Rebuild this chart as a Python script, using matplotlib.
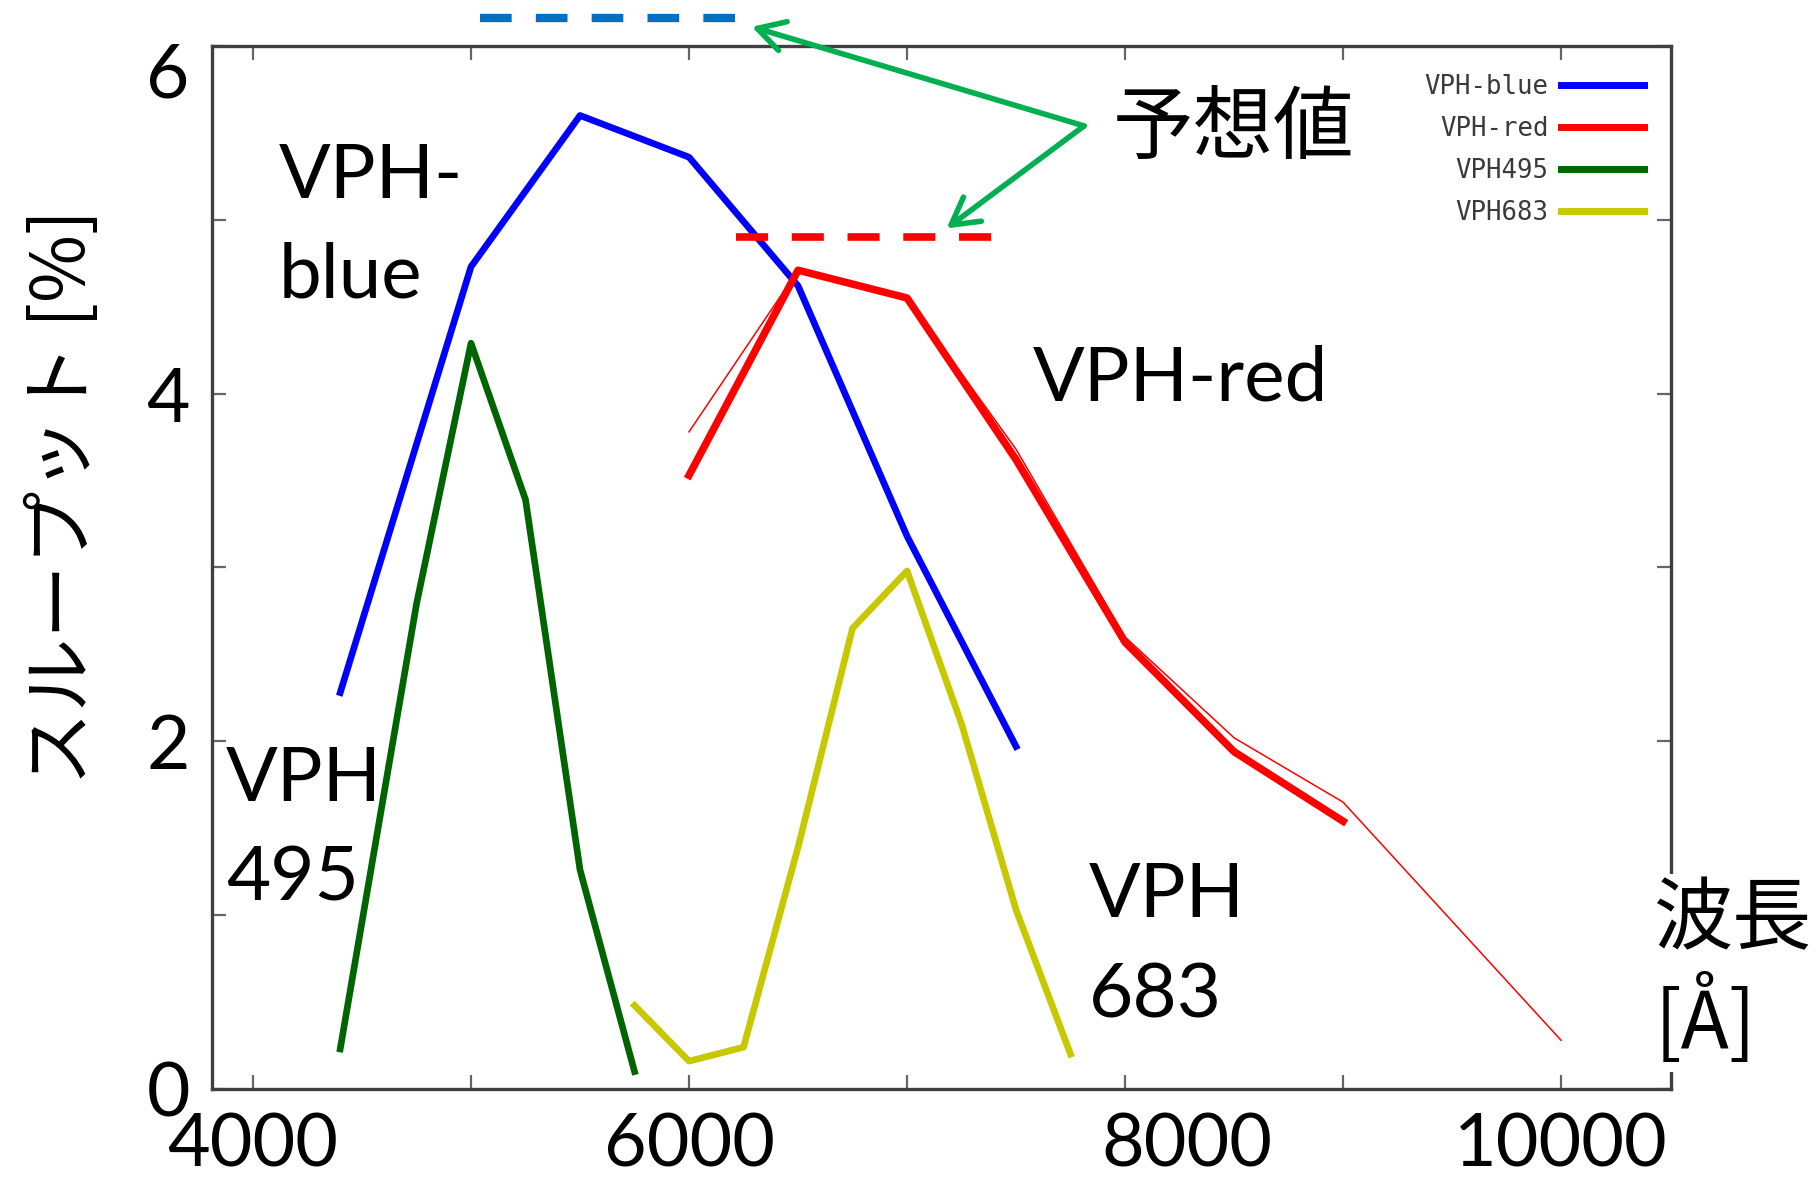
import matplotlib
matplotlib.use("Agg")
import matplotlib.pyplot as plt
from matplotlib.ticker import FixedLocator
from matplotlib.transforms import ScaledTranslation

plt.rcParams['font.family'] = ['Lato', 'Noto Sans CJK JP', 'DejaVu Sans']

# throughput [%] vs wavelength [A]
blue_x = [4400, 5000, 5500, 6000, 6500, 7000, 7500]
blue_y = [2.28, 4.73, 5.60, 5.36, 4.62, 3.18, 1.97]

red_x = [6000, 6500, 7000, 7500, 8000, 8500, 9000]
red_y = [3.53, 4.71, 4.55, 3.62, 2.57, 1.94, 1.54]

# thin red curve (no legend entry)
red2_x = [6000, 6500, 7000, 7500, 8000, 8500, 9000, 10000]
red2_y = [3.78, 4.71, 4.55, 3.68, 2.60, 2.02, 1.65, 0.28]

g495_x = [4400, 4750, 5000, 5250, 5500, 5750]
g495_y = [0.23, 2.79, 4.29, 3.39, 1.26, 0.10]

y683_x = [5750, 6000, 6250, 6500, 6750, 7000, 7250, 7500, 7750]
y683_y = [0.48, 0.16, 0.24, 1.39, 2.65, 2.98, 2.10, 1.03, 0.20]

# expected values (dashed)
exp_blue_x = [5040, 6215]
exp_blue_y = [6.16, 6.16]
exp_red_x = [6215, 7390]
exp_red_y = [4.90, 4.90]

legend_names = ['VPH-blue', 'VPH-red', 'VPH495', 'VPH683']
xtick_vals = [4000, 6000, 8000, 10000]
ytick_vals = [0, 2, 4, 6]

fig = plt.figure(figsize=(18.2, 11.78), dpi=100)
ax = fig.add_axes([0.1165, 0.0756, 0.8016, 0.8854])

ax.plot(blue_x, blue_y, color='#0000ff', lw=4.8, label=legend_names[0], zorder=3)
ax.plot(red_x, red_y, color='#ff0000', lw=5.4, label=legend_names[1], zorder=4)
ax.plot(g495_x, g495_y, color='#006400', lw=4.8, label=legend_names[2], zorder=3)
ax.plot(y683_x, y683_y, color='#c8c800', lw=4.8, label=legend_names[3], zorder=3)
ax.plot(red2_x, red2_y, color='#ff0000', lw=1.1, label='_nolegend_', zorder=4)

ax.plot(exp_blue_x, exp_blue_y, color='#0070c0', lw=6, dashes=(3.8, 2.9),
        dash_capstyle='butt', clip_on=False, zorder=5)
ax.plot(exp_red_x, exp_red_y, color='#ff0000', lw=5.5, dashes=(4.2, 3.1),
        dash_capstyle='butt', zorder=5)

ax.set_xlim(3812, 10504)
ax.set_ylim(0, 6)

ax.xaxis.set_major_locator(FixedLocator(xtick_vals))
ax.xaxis.set_minor_locator(FixedLocator([5000, 7000, 9000]))
ax.yaxis.set_major_locator(FixedLocator(ytick_vals))
ax.yaxis.set_minor_locator(FixedLocator([1, 3, 5]))
ax.tick_params(which='both', direction='in', length=10, width=1.6,
               color='#666666', top=True, right=True)
ax.tick_params(axis='x', which='major', labelsize=53, pad=17)
ax.tick_params(axis='y', which='major', labelsize=54, pad=16)
for s in ax.spines.values():
    s.set_color('#404040')
    s.set_linewidth(2.4)

# the overlaid tick labels in the original are not all centred on their ticks
xt = ax.xaxis.get_major_ticks()
xt[2].label1.set_transform(xt[2].label1.get_transform() +
                           ScaledTranslation(0.62, 0, fig.dpi_scale_trans))
yt = ax.yaxis.get_major_ticks()
yt[3].label1.set_transform(yt[3].label1.get_transform() +
                           ScaledTranslation(0, -0.24, fig.dpi_scale_trans))

ax.set_ylabel('スループット [%]', fontsize=53, family=['Noto Sans CJK JP'],
              va='center')
ax.yaxis.set_label_coords(-0.101, 0.567)

fig.text(0.909, 0.253, '波長\n[Å]', fontsize=57, family=['Noto Sans CJK JP'],
         ha='left', va='top', linespacing=1.2,
         bbox=dict(facecolor='white', edgecolor='none', pad=4))

# curve labels
lab = dict(fontsize=55, linespacing=1.55, va='top', ha='left')
ax.text(4119, 5.45, 'VPH-\nblue', **lab)
ax.text(7578, 4.28, 'VPH-red', **lab)
ax.text(3876, 1.98, 'VPH\n495', clip_on=False, **lab)
ax.text(7835, 1.31, 'VPH\n683', **lab)

# expected value callout
ax.text(7945, 5.52, '予想値', fontsize=58, family=['Noto Sans CJK JP'],
        ha='left', va='center')
arr = dict(arrowstyle='->,head_length=0.8,head_width=0.45', color='#00b050',
           lw=4, mutation_scale=24, shrinkA=0, shrinkB=0)
ax.annotate('', xy=(6288, 6.11), xytext=(7812, 5.54), arrowprops=arr,
            annotation_clip=False)
ax.annotate('', xy=(7181, 4.95), xytext=(7812, 5.54), arrowprops=arr,
            annotation_clip=False)

leg = ax.legend(loc='upper right', bbox_to_anchor=(0.99, 0.985),
                frameon=False, markerfirst=False, borderpad=0,
                prop={'family': 'DejaVu Sans Mono', 'size': 18.5},
                handlelength=3.2, handletextpad=0.5, labelspacing=0.62)
for t in leg.get_texts():
    t.set_color('#3a3a3a')
for h in leg.get_lines():
    h.set_linewidth(5)

fig.savefig('out.png', dpi=100)
